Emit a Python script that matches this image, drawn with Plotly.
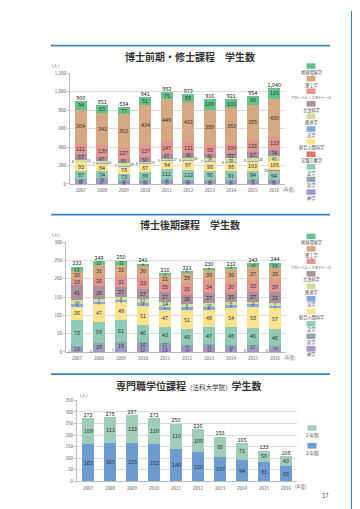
import plotly.graph_objects as go

W, H = 360, 509
FONT = "Noto Sans CJK JP"

years = ["2007", "2008", "2009", "2010", "2011", "2012", "2013", "2014", "2015", "2016"]

# ---- Chart 1: 博士前期・修士課程 ----
m_chikyu = [94, 83, 77, 81, 75, 89, 109, 103, 93, 115]
m_riko = [364, 343, 363, 434, 449, 431, 389, 383, 385, 420]
m_global = [121, 130, 127, 137, 147, 121, 93, 100, 126, 133]
m_gengo = [57, 47, 45, 50, 47, 46, 46, 57, 67, 74]
m_keizai = [23, 21, 24, 14, 17, 26, 34, 38, 30, 45]
m_hogaku = [6, 7, 7, 6, 5, 8, 7, 6, 8, 0]
m_sogo = [93, 84, 78, 87, 94, 97, 98, 98, 103, 105]
m_jissen = [0, 0, 0, 0, 0, 0, 0, 0, 0, 10]
m_bungaku = [87, 74, 73, 89, 111, 112, 96, 91, 94, 94]
m_tetsu = [33, 35, 24, 25, 30, 24, 26, 27, 30, 28]
m_shin = [22, 27, 16, 18, 17, 19, 18, 18, 18, 16]
m_total = [900, 851, 834, 941, 992, 973, 916, 921, 954, 1040]

# ---- Chart 2: 博士後期課程 ----
d_chikyu = [13, 12, 11, 6, 6, 4, 5, 4, 10, 13]
d_riko = [20, 31, 31, 30, 21, 29, 30, 36, 37, 38]
d_global = [18, 26, 31, 33, 25, 31, 34, 30, 32, 29]
d_gengo = [41, 36, 27, 27, 27, 26, 27, 25, 27, 31]
d_keizai = [10, 7, 8, 12, 14, 9, 10, 9, 7, 7]
d_hogaku = [7, 7, 6, 8, 8, 8, 8, 7, 7, 7]
d_sogo = [36, 47, 49, 51, 47, 51, 48, 54, 58, 57]
d_bungaku = [72, 59, 61, 46, 43, 43, 47, 48, 45, 46]
d_tetsu = [13, 19, 19, 16, 12, 10, 10, 10, 12, 10]
d_shin = [3, 5, 7, 12, 13, 10, 11, 9, 8, 6]
d_total = [233, 249, 250, 241, 216, 221, 230, 232, 243, 244]

# ---- Chart 3: 専門職学位課程 ----
p_3nen = [163, 167, 165, 162, 140, 126, 107, 94, 83, 65]
p_2nen = [109, 111, 122, 110, 110, 100, 86, 71, 50, 43]
p_total = [272, 278, 287, 272, 250, 226, 193, 165, 133, 108]

colors = {
    "神学": "#a393cf",
    "哲学": "#94a5b4",
    "文学": "#8fcab6",
    "実践宗教学": "#d2795f",
    "総合人間科学": "#fde28f",
    "法学": "#86a9da",
    "経済学": "#cde0a0",
    "言語科学": "#ab909f",
    "グローバル・スタディーズ": "#e59591",
    "理工学": "#d6a983",
    "地球環境学": "#63c38c",
    "3年制": "#6b9bd0",
    "2年制": "#9fcdb7",
}

def px2x(px):
    return px / W

def px2y(py):
    return 1 - py / H

fig = go.Figure()
annotations = []
shapes = []

def add_stack(series, xa, ya, px_per_unit, side_left=(), side_right=()):
    base = [0] * len(years)
    for name, vals in series:
        fig.add_trace(go.Bar(
            x=years, y=vals, name=name, xaxis=xa, yaxis=ya,
            marker=dict(color=colors[name], line=dict(width=0)),
            showlegend=False, hoverinfo="y+name",
        ))
        for i, v in enumerate(vals):
            if not v:
                continue
            mid = base[i] + v / 2
            hpx = v * px_per_unit
            size = max(3.3, min(5.5, hpx * 1.05))
            shift = 0
            if hpx < 3.0 and name in side_left:
                shift = -8
            elif hpx < 3.0 and name in side_right:
                shift = 8
            annotations.append(dict(
                x=i, y=mid, xref=xa, yref=ya, text=str(v), showarrow=False,
                xshift=shift, borderpad=0,
                font=dict(size=size, color="#333333", family=FONT)))
            base[i] += v

def add_total(vals, xa, ya):
    fig.add_trace(go.Scatter(
        x=years, y=vals, xaxis=xa, yaxis=ya, mode="text",
        text=[f"{v:,}" for v in vals], textposition="top center",
        textfont=dict(size=5.5, color="#222222", family=FONT),
        showlegend=False, cliponaxis=False,
    ))

c1 = [("神学", m_shin), ("哲学", m_tetsu), ("文学", m_bungaku), ("実践宗教学", m_jissen),
      ("総合人間科学", m_sogo), ("法学", m_hogaku), ("経済学", m_keizai), ("言語科学", m_gengo),
      ("グローバル・スタディーズ", m_global), ("理工学", m_riko), ("地球環境学", m_chikyu)]
add_stack(c1, "x", "y", 112 / 1200, side_left=("法学", "実践宗教学"), side_right=("経済学",))
add_total(m_total, "x", "y")

c2 = [("神学", d_shin), ("哲学", d_tetsu), ("文学", d_bungaku), ("総合人間科学", d_sogo),
      ("法学", d_hogaku), ("経済学", d_keizai), ("言語科学", d_gengo),
      ("グローバル・スタディーズ", d_global), ("理工学", d_riko), ("地球環境学", d_chikyu)]
add_stack(c2, "x2", "y2", 111 / 300, side_left=("神学",))
add_total(d_total, "x2", "y2")

add_stack([("3年制", p_3nen), ("2年制", p_2nen)], "x3", "y3", 82 / 350)
add_total(p_total, "x3", "y3")

axis_common_x = dict(type="category", showline=True, linecolor="#bbbbbb", linewidth=1, ticks="",
                     ticklabelstandoff=2,
                     tickfont=dict(size=4.5, color="#555555", family=FONT), showgrid=False)
axis_common_y = dict(showline=True, linecolor="#bbbbbb", linewidth=1, ticks="outside",
                     ticklen=2, tickcolor="#bbbbbb", gridcolor="#dddddd", gridwidth=1,
                     tickfont=dict(size=4.5, color="#555555", family=FONT), zeroline=False)

fig.update_layout(
    width=W, height=H, margin=dict(l=0, r=0, t=0, b=0),
    paper_bgcolor="white", plot_bgcolor="rgba(0,0,0,0)",
    barmode="stack", bargap=0.44, showlegend=False,
    font=dict(family=FONT, size=5, color="#444444"),
    xaxis=dict(domain=[px2x(62), px2x(277)], anchor="y", range=[-0.5, 9.5], **axis_common_x),
    yaxis=dict(domain=[px2y(175), px2y(63)], anchor="x", range=[0, 1200], dtick=200,
               tickformat=",", **axis_common_y),
    xaxis2=dict(domain=[px2x(58), px2x(278)], anchor="y2", range=[-0.5, 9.5], **axis_common_x),
    yaxis2=dict(domain=[px2y(345), px2y(234)], anchor="x2", range=[0, 300], dtick=50,
                **axis_common_y),
    xaxis3=dict(domain=[px2x(69), px2x(289)], anchor="y3", range=[-0.5, 9.5], **axis_common_x),
    yaxis3=dict(domain=[px2y(476), px2y(394)], anchor="x3", range=[0, 350], dtick=50,
                **axis_common_y),
)

def txt(x, y, s, size=5, color="#444444", xanchor="center", yanchor="middle"):
    annotations.append(dict(x=px2x(x), y=px2y(y), xref="paper", yref="paper", text=s,
                            showarrow=False, xanchor=xanchor, yanchor=yanchor,
                            font=dict(size=size, color=color, family=FONT)))

def rect(x0, y0, x1, y1, color):
    shapes.append(dict(type="rect", xref="paper", yref="paper",
                       x0=px2x(x0), x1=px2x(x1), y0=px2y(y1), y1=px2y(y0),
                       fillcolor=color, line=dict(width=0), layer="below"))

# right blue strip with white tab
rect(343, 0, 360, 509, "#3c7ec0")
shapes.append(dict(type="path", xref="paper", yref="paper",
                   path=f"M {px2x(360)},{px2y(63)} L {px2x(348)},{px2y(63)} Q {px2x(344.5)},{px2y(63)} {px2x(344.5)},{px2y(67)} "
                        f"L {px2x(344.5)},{px2y(128)} Q {px2x(344.5)},{px2y(132)} {px2x(348)},{px2y(132)} L {px2x(360)},{px2y(132)} Z",
                   fillcolor="white", line=dict(width=0), layer="below"))
txt(350, 97, "上<br>智<br>大<br>学", size=5.5, color="#222222")

# header blue lines
for yline in (35, 206, 367.5):
    shapes.append(dict(type="line", xref="paper", yref="paper", x0=px2x(43), x1=px2x(322),
                       y0=px2y(yline), y1=px2y(yline), line=dict(color="#3b7fc4", width=1.8)))

# titles
txt(182, 46, "<b>博士前期・修士課程　学生数</b>", size=10, color="#333333")
txt(182, 216.5, "<b>博士後期課程　学生数</b>", size=10, color="#333333")
txt(181, 378.5, "<b>専門職学位課程</b><span style='font-size:6.5px'>（法科大学院）</span><b>学生数</b>",
    size=10, color="#333333")

# units
txt(48, 55, "(人)", size=4.5, color="#555555")
txt(48, 226, "(人)", size=4.5, color="#555555")
txt(76, 389, "(人)", size=4.5, color="#555555")
txt(273, 180.5, "(年度)", size=4.3, color="#555555", xanchor="left")
txt(274, 351, "(年度)", size=4.3, color="#555555", xanchor="left")
txt(285, 481.5, "(年度)", size=4.3, color="#555555", xanchor="left")

# legends
def legend(items, xc, y_first, step, text_off=6.3):
    for i, (name, label, fs) in enumerate(items):
        y = y_first + i * step
        rect(xc - 4.5, y - 2.8, xc + 4.5, y + 2.8, colors[name])
        txt(xc, y + text_off, label, size=fs, color="#444444")

leg1 = [("地球環境学", "地球環境学", 4.2), ("理工学", "理工学", 4.2),
        ("グローバル・スタディーズ", "グローバル・スタディーズ", 3.4), ("言語科学", "言語科学", 4.2),
        ("経済学", "経済学", 4.2), ("法学", "法学", 4.2), ("総合人間科学", "総合人間科学", 4.2),
        ("実践宗教学", "実践宗教学", 4.2), ("文学", "文学", 4.2), ("哲学", "哲学", 4.2), ("神学", "神学", 4.2)]
legend(leg1, 303, 55.7, 12.75)

leg2 = [("地球環境学", "地球環境学", 4.2), ("理工学", "理工学", 4.2),
        ("グローバル・スタディーズ", "グローバル・スタディーズ", 3.4), ("言語科学", "言語科学", 4.2),
        ("経済学", "経済学", 4.2), ("法学", "法学", 4.2), ("総合人間科学", "総合人間科学", 4.2),
        ("文学", "文学", 4.2), ("哲学", "哲学", 4.2), ("神学", "神学", 4.2)]
legend(leg2, 303, 228, 12.65, text_off=5.8)

leg3 = [("2年制", "２年制", 4.5), ("3年制", "３年制", 4.5)]
legend(leg3, 304, 422, 18, text_off=7.5)

txt(317, 490, "17", size=6, color="#444444")

fig.update_layout(shapes=shapes, annotations=annotations)
fig.write_html("out.html")
